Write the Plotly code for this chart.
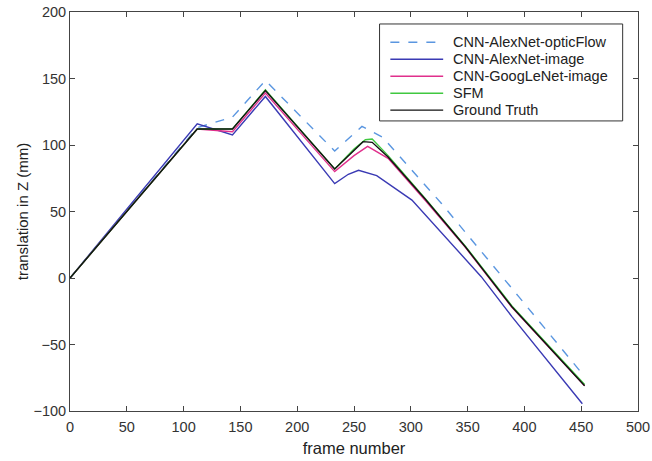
import plotly.graph_objects as go

# Ground Truth
gt_x = [0, 112, 143, 172, 233, 250, 258, 266, 280, 313, 348, 389, 453]
gt_y = [0, 112, 112, 141, 82, 96, 102.5, 102, 91, 59, 23.5, -21.6, -81]

# SFM
sfm_x = [0, 112, 143, 172, 233, 250, 260, 266, 280, 313, 348, 389, 453]
sfm_y = [0, 112, 112, 141.5, 82, 97, 104, 104.5, 92, 59.5, 24, -21, -80]

# CNN-GoogLeNet-image
goog_x = [0, 112, 143, 172, 233, 250, 262, 280, 313, 348, 389, 453]
goog_y = [0, 112, 110, 139, 80, 92, 99, 90, 58, 23, -22, -81]

# CNN-AlexNet-image
alex_x = [0, 112, 143, 172, 233, 245, 254, 270, 301, 333, 362, 389, 451]
alex_y = [0, 116, 107.5, 136.5, 71, 78, 81, 77, 58.6, 28.6, 1, -29, -94.5]

# CNN-AlexNet-opticFlow
flow_x = [0, 112, 143, 172, 233, 250, 257, 275, 327, 395, 449]
flow_y = [0, 113, 121, 148.5, 95.5, 109, 114, 106, 56, -14, -70]

series_names = ["CNN-AlexNet-opticFlow", "CNN-AlexNet-image", "CNN-GoogLeNet-image",
                "SFM", "Ground Truth"]

x_ticks = [0, 50, 100, 150, 200, 250, 300, 350, 400, 450, 500]
y_ticks = [-100, -50, 0, 50, 100, 150, 200]

styles = [
    dict(color="#5a96e0", width=1.4, dash="dash"),
    dict(color="#3a3ab4", width=1.4, dash="solid"),
    dict(color="#e0308c", width=1.4, dash="solid"),
    dict(color="#40c840", width=1.4, dash="solid"),
    dict(color="#111111", width=1.4, dash="solid"),
]
data = [(flow_x, flow_y), (alex_x, alex_y), (goog_x, goog_y), (sfm_x, sfm_y), (gt_x, gt_y)]

fig = go.Figure()
for name, (xs, ys), st in zip(series_names, data, styles):
    fig.add_trace(go.Scatter(x=xs, y=ys, mode="lines", name=name, line=st, showlegend=False))

# Legend box drawn MATLAB-style (paper coordinates relative to plot area)
box_x0, box_x1, box_y0, box_y1 = 0.545, 0.973, 0.727, 0.970
row_top, row_step = 0.924, 0.0425
fig.add_shape(type="rect", xref="paper", yref="paper", x0=box_x0, x1=box_x1, y0=box_y0, y1=box_y1,
              line=dict(color="#333333", width=1), fillcolor="white", layer="above")
for i, (name, st) in enumerate(zip(series_names, styles)):
    yy = row_top - i * row_step
    fig.add_shape(type="line", xref="paper", yref="paper", x0=0.564, x1=0.657, y0=yy, y1=yy,
                  line=st, layer="above")
    fig.add_annotation(xref="paper", yref="paper", x=0.670, y=yy, text=name, showarrow=False,
                       xanchor="left", yanchor="middle",
                       font=dict(family="Liberation Sans, Arial", size=14.5, color="#222222"))

axis_common = dict(showgrid=False, zeroline=False, showline=True, linecolor="#444444",
                   linewidth=1, mirror="ticks", ticks="inside", ticklen=5, tickcolor="#444444",
                   automargin=False, ticklabeloverflow="allow",
                   tickfont=dict(family="Liberation Sans, Arial", size=14.5, color="#333333"))

fig.update_layout(
    width=652, height=461,
    margin=dict(l=70, r=14, t=12, b=50),
    plot_bgcolor="white", paper_bgcolor="white",
    font=dict(family="Liberation Sans, Arial", color="#222222"),
    xaxis=dict(range=[0, 500], tickvals=x_ticks, ticklabelstandoff=3,
               title=dict(text="frame number", font=dict(size=16.5), standoff=8), **axis_common),
    yaxis=dict(range=[-100, 200], tickvals=y_ticks,
               title=dict(text="translation in Z (mm)", font=dict(size=15), standoff=1), **axis_common),
    showlegend=False,
)

fig.write_html("out.html", config={"displayModeBar": False},
               post_script="document.body.style.margin='0';")
